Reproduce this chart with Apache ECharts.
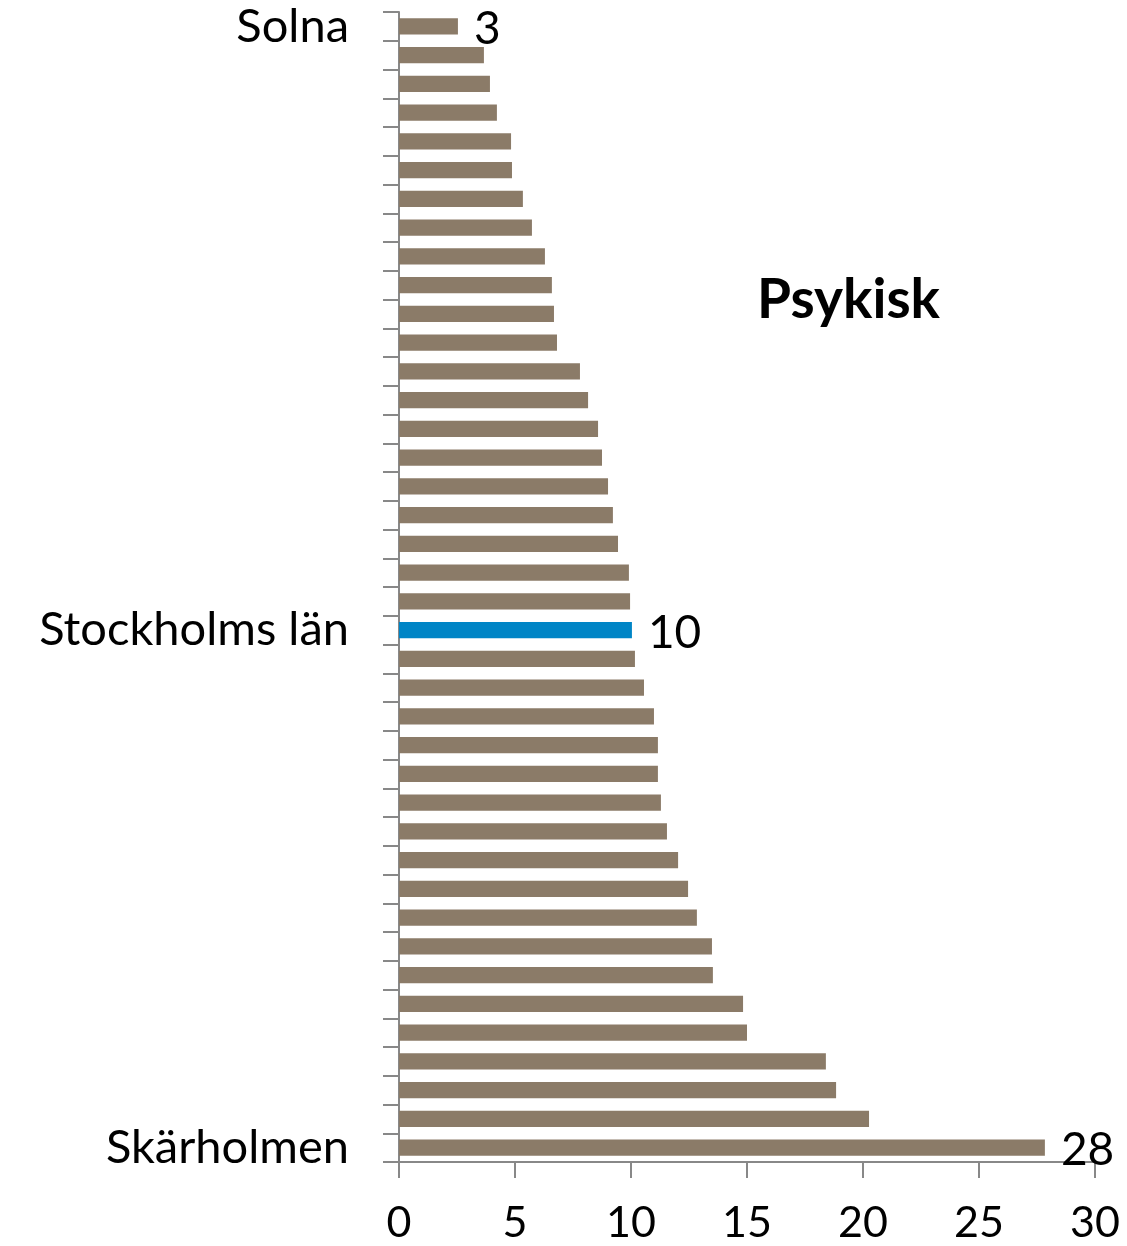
<!DOCTYPE html>
<html>
<head>
<meta charset="utf-8">
<script src="https://cdn.jsdelivr.net/npm/echarts@6/dist/echarts.min.js"></script>
<style>
  html, body { margin: 0; padding: 0; background: #fff; }
  #chart { width: 1127px; height: 1246px; }
</style>
</head>
<body>
<div id="chart"></div>
<script>
// categories top to bottom; only three are named in the picture
const categories = [
  'Solna', '', '', '', '', '', '', '', '', '',
  '', '', '', '', '', '', '', '', '', '',
  '', 'Stockholms län', '', '', '', '', '', '', '', '',
  '', '', '', '', '', '', '', '', '', 'Skärholmen'
];
const values = [
  2.54, 3.66, 3.92, 4.22, 4.83, 4.87, 5.34, 5.73, 6.29, 6.59,
  6.68, 6.81, 7.80, 8.15, 8.58, 8.75, 9.01, 9.22, 9.44, 9.91,
  9.96, 10.04, 10.17, 10.56, 10.99, 11.16, 11.16, 11.29, 11.55, 12.03,
  12.46, 12.84, 13.49, 13.53, 14.83, 15.00, 18.40, 18.84, 20.26, 27.84
];
const highlightIndex = 21;
const labelledIndexes = [0, 21, 39];
const xTicks = [0, 5, 10, 15, 20, 25, 30];

const FONT = 'Lato';
const chart = echarts.init(document.getElementById('chart'));

const option = {
  backgroundColor: '#ffffff',
  animation: false,
  title: {
    text: 'Psykisk',
    left: 752,
    top: 268,
    textStyle: { fontFamily: FONT, fontSize: 55, fontWeight: 'bold', color: '#000' }
  },
  grid: { left: 399, right: 32, top: 12, bottom: 84 },
  xAxis: {
    type: 'value',
    min: xTicks[0],
    max: xTicks[xTicks.length - 1],
    interval: 5,
    axisLine: { show: true, lineStyle: { color: '#888888', width: 2 } },
    axisTick: { show: true, length: 16, lineStyle: { color: '#888888', width: 2 } },
    axisLabel: { margin: 40, fontFamily: FONT, fontSize: 43, color: '#000' },
    splitLine: { show: false }
  },
  yAxis: {
    type: 'category',
    inverse: true,
    data: categories,
    axisLine: { lineStyle: { color: '#888888', width: 2 } },
    axisTick: { show: true, length: 16, interval: 0, lineStyle: { color: '#888888', width: 2 } },
    axisLabel: { interval: 0, margin: 50, fontFamily: FONT, fontSize: 47, color: '#000' }
  },
  series: [{
    type: 'bar',
    barCategoryGap: '44%',
    data: values.map((v, i) => ({
      value: v,
      itemStyle: { color: i === highlightIndex ? '#0085c6' : '#8b7b68' },
      label: {
        show: labelledIndexes.includes(i),
        position: 'right',
        distance: 16,
        offset: [0, 3],
        fontFamily: FONT,
        fontSize: 46,
        color: '#000',
        formatter: (p) => Math.round(p.value)
      }
    }))
  }]
};

chart.setOption(option);
</script>
</body>
</html>
